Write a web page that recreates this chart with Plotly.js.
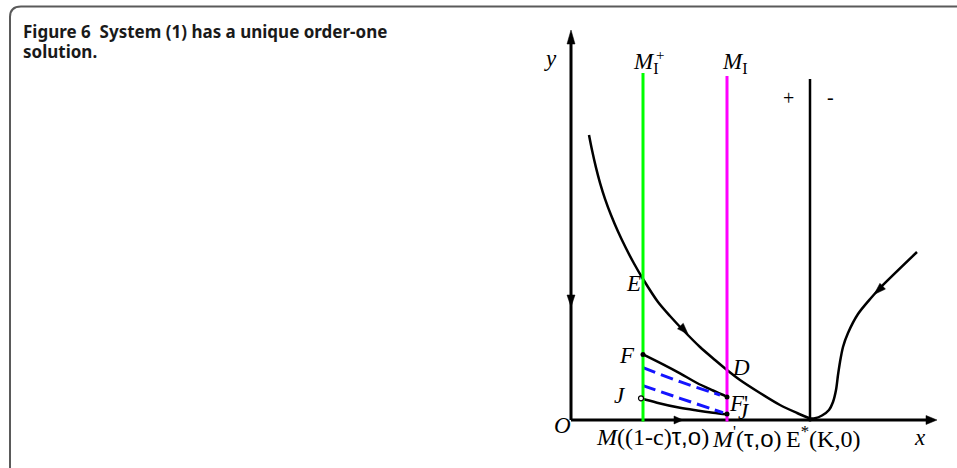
<!DOCTYPE html>
<html>
<head>
<meta charset="utf-8">
<script src="https://cdn.plot.ly/plotly-3.0.1.min.js"></script>
<style>html,body{margin:0;padding:0;background:#fff;}#chart{width:957px;height:468px;}</style>
</head>
<body>
<div id="chart"></div>
<script>
// ---- Diagram data (diagram units: x to the right of O, y up from O) ----
// main trajectory through E, D, reaching E*(K,0), and the branch coming from the right
const mainCurveX = [18, 21, 25, 29, 34, 40, 47, 55, 63, 72, 87, 99, 112, 129, 144, 156, 169, 189, 209, 226, 239];
const mainCurveY = [285, 270, 252.4, 237.2, 221.2, 205, 188.5, 171.7, 156.5, 141, 118, 104, 90, 73, 60, 50, 40, 27, 15, 7, 1.5];
const rightCurveX = [239, 244, 251, 258, 262, 265, 267, 269, 272, 277, 287, 300, 309, 346];
const rightCurveY = [1.5, 1.7, 4.5, 10, 18, 30, 45, 58, 73, 87, 106, 122, 132, 168];
// trajectory F -> F'
const fCurveX = [72, 92, 109, 126, 142, 156];
const fCurveY = [65.7, 55.7, 46.7, 37, 29.5, 23.3];
// trajectory J -> J'
const jCurveX = [70, 86, 109, 126, 142, 156];
const jCurveY = [21.7, 17.3, 12.2, 9.5, 7.3, 5.7];
// dashed (blue) trajectories between them
const dash1X = [72, 109, 149];
const dash1Y = [52.3, 38.3, 25];
const dash2X = [72, 109, 152];
const dash2Y = [34.3, 21.7, 7.3];
// vertical lines: M_I^+ (green), M_I (magenta), x = K (black)
const vLineX = [72, 156, 239];
const vLineTop = [347, 344, 341];
// axes extents
const yAxisTop = 378;
const xAxisRight = 356;
// marked points
const dotX = [72, 156, 156];
const dotY = [65.5, 23, 6];
const openDotX = [70];
const openDotY = [21.7];
// arrowheads: tip position and direction (degrees)
const arrowTipX = [0, 0, 366, 112, 117, 303];
const arrowTipY = [390, 113, 0, 0, 86, 125.5];
const arrowDir = [90, -90, 0, 0, -46, 223.6];
const arrowLen = [14, 12, 11, 9, 11, 12];
const arrowHalfW = [4, 4, 4.5, 4, 4, 4];
// labels
const labelText = ['<i>y</i>', '<i>O</i>', '<i>E</i>', '<i>F</i>', '<i>J</i>', '<i>D</i>', "<i>F</i>'", '<i>J</i>',
  '<i>M</i><sub>I</sub>', '+', '<i>M</i><sub>I</sub>', '+', '-',
  '<i>M</i>((1-c)<span style="font-family:Liberation Sans">τ,o</span>)',
  "<i>M</i><sup>'</sup>(<span style=\"font-family:Liberation Sans\">τ,o</span>)",
  'E<sup>*</sup>(K,0)', '<i>x</i>'];
const labelX = [-21, -9, 62, 56, 49, 170, 167, 173, 75, 89, 164, 217, 259, 81, 176, 252, 349];
const labelY = [362, -5, 137, 65, 25, 53, 17, 9, 357, 365, 357, 322, 323, -16.5, -16.5, -16.5, -17];
const labelSize = [23, 23, 23, 23, 23, 23, 23, 23, 23, 15, 23, 20, 20, 24, 24, 24, 23];
const captionLines = ['Figure 6  System (1) has a unique order-one', 'solution.'];

// ---- build traces ----
const traces = [];
const black = '#000000';
// axes
traces.push({x: [0, 0], y: [0, yAxisTop], mode: 'lines', line: {color: black, width: 3}});
traces.push({x: [0, xAxisRight], y: [0, 0], mode: 'lines', line: {color: black, width: 3}});
// curves
traces.push({x: mainCurveX, y: mainCurveY, mode: 'lines', line: {color: black, width: 2.5, shape: 'spline', smoothing: 0.8}});
traces.push({x: rightCurveX, y: rightCurveY, mode: 'lines', line: {color: black, width: 2.5, shape: 'spline', smoothing: 0.8}});
traces.push({x: fCurveX, y: fCurveY, mode: 'lines', line: {color: black, width: 2.5, shape: 'spline', smoothing: 1}});
traces.push({x: jCurveX, y: jCurveY, mode: 'lines', line: {color: black, width: 2.5, shape: 'spline', smoothing: 1}});
traces.push({x: dash1X, y: dash1Y, mode: 'lines', line: {color: '#1414ff', width: 3, dash: '13px,6px', shape: 'spline'}});
traces.push({x: dash2X, y: dash2Y, mode: 'lines', line: {color: '#1414ff', width: 3, dash: '13px,6px', shape: 'spline'}});
// vertical lines
const vColors = ['#00ff00', '#ff00ff', black];
const vWidths = [3, 3, 2.5];
for (let i = 0; i < vLineX.length; i++) {
  traces.push({x: [vLineX[i], vLineX[i]], y: [-1.5, vLineTop[i]], mode: 'lines', line: {color: vColors[i], width: vWidths[i]}});
}
// arrowheads
for (let i = 0; i < arrowTipX.length; i++) {
  const a = arrowDir[i] * Math.PI / 180;
  const dx = Math.cos(a), dy = Math.sin(a);
  const bx = arrowTipX[i] - dx * arrowLen[i], by = arrowTipY[i] - dy * arrowLen[i];
  const px = -dy * arrowHalfW[i], py = dx * arrowHalfW[i];
  traces.push({x: [arrowTipX[i], bx + px, bx - px, arrowTipX[i]], y: [arrowTipY[i], by + py, by - py, arrowTipY[i]],
    mode: 'lines', fill: 'toself', fillcolor: black, line: {color: black, width: 0.5}});
}
// points
traces.push({x: dotX, y: dotY, mode: 'markers', marker: {color: black, size: 5}});
traces.push({x: openDotX, y: openDotY, mode: 'markers', marker: {color: '#ffffff', size: 5, line: {color: black, width: 1.2}}});

const annotations = labelText.map((t, i) => ({
  text: t, x: labelX[i], y: labelY[i], xref: 'x', yref: 'y', showarrow: false,
  xanchor: 'center', yanchor: 'middle',
  font: {family: 'Liberation Serif', size: labelSize[i], color: '#000'}
}));
captionLines.forEach((t, i) => annotations.push({
  text: '<b>' + t + '</b>', xref: 'paper', yref: 'paper', x: 21 / 957, y: 1 - (18 + 19.5 * i) / 468,
  xanchor: 'left', yanchor: 'top', align: 'left', showarrow: false,
  font: {family: 'Noto Sans', size: 17, color: '#1a1a1a'}
}));

const layout = {
  width: 957, height: 468,
  margin: {l: 0, r: 0, t: 0, b: 0},
  paper_bgcolor: '#ffffff', plot_bgcolor: '#ffffff',
  showlegend: false, hovermode: false,
  xaxis: {range: [-571, 386], visible: false, fixedrange: true},
  yaxis: {range: [-48, 420], visible: false, fixedrange: true},
  annotations: annotations,
  shapes: [{
    type: 'path', xref: 'x', yref: 'y',
    path: 'M -561,-50 L -561,403 Q -561,413.5 -550,413.5 L 390,413.5',
    line: {color: '#5a5a5a', width: 2}
  }]
};
Plotly.newPlot('chart', traces, layout, {staticPlot: true, displayModeBar: false});
</script>
</body>
</html>
